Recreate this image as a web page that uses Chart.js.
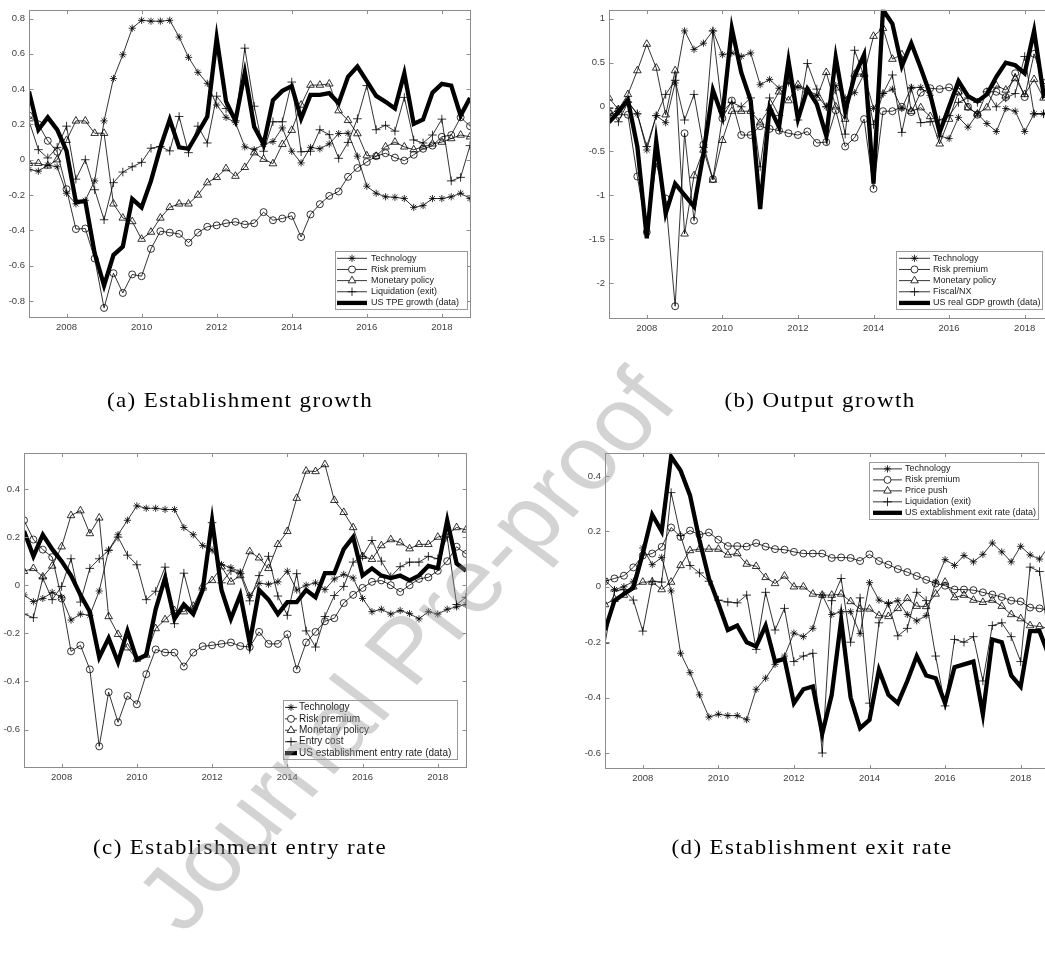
<!DOCTYPE html>
<html>
<head>
<meta charset="utf-8">
<script src="https://cdn.jsdelivr.net/npm/chart.js@4.4.1/dist/chart.umd.min.js"></script>
<style>
html,body{margin:0;padding:0;background:#fff;}
body{width:1045px;height:955px;overflow:hidden;position:relative;}
canvas{position:absolute;}
#wrap{position:absolute;left:0;top:0;width:1045px;height:1061px;transform:scaleY(0.9);transform-origin:0 0;pointer-events:none;}
.cap{position:absolute;width:max-content;transform:translate(-50%,-50%);font-family:"Liberation Serif",serif;font-size:23px;letter-spacing:1.4px;color:#000;white-space:nowrap;}
#wm{position:absolute;width:max-content;left:405px;top:722px;transform:translate(-50%,-50%) rotate(-50deg);font-family:"Liberation Sans",Arial,sans-serif;font-size:100px;color:rgba(150,150,150,0.42);white-space:nowrap;}
</style>
</head>
<body>
<canvas id="pa"></canvas>
<canvas id="pb"></canvas>
<canvas id="pc"></canvas>
<canvas id="pd"></canvas>
<div id="wrap">
<div class="cap" style="left:240px;top:445px">(a) Establishment growth</div>
<div class="cap" style="left:820px;top:445px">(b) Output growth</div>
<div class="cap" style="left:240px;top:942px">(c) Establishment entry rate</div>
<div class="cap" style="left:812px;top:942px">(d) Establishment exit rate</div>
<div id="wm">Journal Pre-proof</div>
</div>
<script>
// quarterly, 2007Q1 .. 2018Q4
const years = [2007,2008,2009,2010,2011,2012,2013,2014,2015,2016,2017,2018];
const quarters = years.flatMap(y => [y, y + 0.25, y + 0.5, y + 0.75]);
const xTicks = [2008, 2010, 2012, 2014, 2016, 2018];

// (a) establishment growth
const techA = [-0.055,-0.065,-0.03,-0.04,-0.19,-0.25,-0.23,-0.12,0.22,0.46, 0.595,0.745,0.79,0.785,0.785,0.79,0.695,0.58,0.495,0.433, 0.31,0.24,0.21,0.073,0.057,0.087,0.103,0.18,0.048,-0.018, 0.07,0.062,0.09,0.148,0.15,0.02,-0.15,-0.19,-0.21,-0.213, -0.22,-0.27,-0.26,-0.22,-0.22,-0.21,-0.19,-0.22];
const riskA = [0.25,0.2,0.107,0.045,-0.167,-0.393,-0.39,-0.56,-0.84,-0.643, -0.755,-0.65,-0.66,-0.505,-0.405,-0.413,-0.42,-0.47,-0.413,-0.38, -0.372,-0.36,-0.352,-0.367,-0.36,-0.297,-0.343,-0.333,-0.318,-0.438, -0.31,-0.252,-0.205,-0.18,-0.097,-0.047,-0.013,0.02,0.037,0.012, -0.005,0.028,0.062,0.08,0.13,0.14,0.24,0.19];
const monA = [-0.02,-0.02,-0.035,0.0,0.11,0.22,0.22,0.15,0.15,-0.25, -0.33,-0.35,-0.45,-0.41,-0.33,-0.27,-0.25,-0.25,-0.2,-0.13, -0.1,-0.05,-0.093,-0.043,0.04,0.003,-0.022,0.087,0.167,0.31, 0.423,0.423,0.43,0.278,0.223,0.148,0.023,0.02,0.073,0.1, 0.073,0.057,0.073,0.09,0.1,0.12,0.14,0.13];
const liqA = [0.22,0.057,0.01,0.07,0.19,-0.11,0.0,-0.17,-0.34,-0.13, -0.07,-0.04,-0.015,0.065,0.075,0.05,0.245,0.04,0.19,0.095, 0.36,0.29,0.22,0.632,0.303,0.048,0.215,0.215,0.44,0.045, 0.048,0.17,0.142,0.008,0.098,0.232,0.42,0.17,0.195,0.162, 0.353,0.112,0.095,0.14,0.23,-0.12,-0.1,0.08];
const tpeA = [0.387,0.17,0.24,0.17,0.05,-0.24,-0.235,-0.53,-0.713,-0.54, -0.493,-0.222,-0.27,-0.12,0.07,0.228,0.07,0.062,0.153,0.245, 0.69,0.33,0.22,0.495,0.187,0.087,0.337,0.39,0.417,0.233, 0.367,0.367,0.377,0.32,0.47,0.528,0.445,0.362,0.328,0.29, 0.49,0.203,0.228,0.38,0.43,0.42,0.25,0.35];

// (b) output growth
const techB = [-0.1,-0.02,0.06,-0.08,-0.49,-0.1,-0.18,0.27,0.86,0.65, 0.72,0.86,0.59,0.61,0.57,0.61,0.25,0.31,0.21,0.27, 0.22,0.19,0.13,0.0,0.24,0.1,0.16,0.37,-0.02,0.15, 0.2,-0.02,0.22,0.22,0.13,-0.33,-0.36,-0.12,-0.23,-0.08, -0.19,-0.28,-0.02,-0.05,-0.28,-0.08,-0.08,-0.08];
const riskB = [-0.07,-0.09,-0.09,-0.79,-1.42,-0.64,-1.04,-2.26,-0.3,-1.29, -0.43,-0.82,-0.13,0.07,-0.32,-0.32,-0.22,-0.25,-0.27,-0.3, -0.32,-0.28,-0.41,-0.4,-0.04,-0.45,-0.35,-0.14,-0.93,-0.05, -0.05,0.0,-0.06,0.16,0.21,0.2,0.22,0.17,0.0,-0.09, 0.17,0.17,0.11,0.38,0.11,0.6,0.27,0.2];
const monB = [0.1,-0.03,0.14,0.41,0.71,0.44,-0.09,0.41,-1.44,-0.78, -0.49,-0.83,-0.38,-0.05,-0.05,-0.05,-0.18,-0.02,0.17,0.07, 0.25,0.19,0.1,0.39,0.0,-0.14,0.37,0.37,0.8,0.89, 0.54,0.59,-0.05,-0.01,-0.11,-0.42,-0.14,0.17,-0.01,-0.08, -0.01,0.24,0.19,0.32,0.14,0.31,0.1,0.15];
const fiscB = [-0.02,-0.17,0.05,-0.08,-0.45,-0.1,0.14,0.3,-0.15,0.14, -0.46,0.86,-0.05,0.05,0.0,0.1,-0.68,0.1,-0.1,0.35, -0.15,0.49,0.2,0.0,0.19,-0.31,0.64,0.35,-0.2,0.15, 0.36,-0.29,0.21,-0.18,-0.17,-0.15,-0.1,0.05,0.1,0.05, 0.17,0.0,0.1,0.15,0.57,-0.08,-0.08,-0.05];
const gdpB = [-0.177,-0.06,0.08,-0.45,-1.49,-0.39,-1.21,-0.87,-1.0,-1.13, -0.53,0.19,-0.11,0.89,0.39,0.07,-1.16,-0.01,-0.23,0.52, -0.14,0.2,0.03,-0.33,0.56,-0.05,0.35,0.59,-0.87,1.1, 0.94,0.46,0.72,0.44,0.14,-0.29,0.0,0.29,0.12,0.06, 0.14,0.34,0.5,0.47,0.38,0.86,0.14,0.3];

// (c) establishment entry rate
const techC = [-0.04,-0.068,-0.055,-0.03,-0.05,-0.145,-0.12,-0.125,-0.024,0.146, 0.21,0.27,0.33,0.32,0.32,0.315,0.315,0.24,0.21,0.165, 0.146,0.086,0.073,0.055,-0.043,0.008,0.004,0.014,0.058,-0.02, 0.0,0.01,-0.018,0.026,0.045,0.03,-0.055,-0.11,-0.1,-0.12, -0.105,-0.118,-0.14,-0.11,-0.12,-0.1,-0.09,-0.08];
const riskC = [0.27,0.19,0.148,0.117,-0.055,-0.275,-0.25,-0.35,-0.67,-0.445, -0.57,-0.46,-0.495,-0.37,-0.267,-0.28,-0.28,-0.338,-0.28,-0.254, -0.25,-0.244,-0.238,-0.253,-0.257,-0.194,-0.244,-0.244,-0.204,-0.35, -0.238,-0.194,-0.15,-0.137,-0.074,-0.04,-0.011,0.014,0.02,0.0, -0.028,0.0,0.026,0.033,0.06,0.1,0.16,0.13];
const monC = [0.058,0.07,0.035,0.08,0.16,0.29,0.31,0.215,0.28,-0.13, -0.204,-0.26,-0.307,-0.29,-0.18,-0.143,-0.105,-0.11,-0.087,-0.005, 0.02,0.077,0.014,0.04,0.14,0.114,0.07,0.17,0.224,0.362, 0.475,0.473,0.502,0.353,0.303,0.24,0.12,0.108,0.165,0.19, 0.177,0.152,0.17,0.17,0.2,0.21,0.24,0.23];
const entryC = [-0.12,-0.135,0.03,-0.06,-0.005,0.11,-0.07,0.07,0.11,0.145, 0.2,0.125,0.085,-0.06,-0.025,0.075,-0.16,0.05,-0.1,-0.02, 0.26,0.01,0.06,0.048,-0.065,0.04,0.12,-0.045,-0.125,0.048, -0.19,-0.257,-0.13,-0.043,-0.005,0.096,0.12,0.186,0.1,0.035, 0.077,0.096,0.096,0.12,0.11,0.2,-0.08,-0.05];
const rateC = [0.225,0.12,0.21,0.15,0.1,0.04,-0.04,-0.11,-0.3,-0.22, -0.32,-0.19,-0.31,-0.29,-0.1,0.03,-0.14,-0.08,-0.12,-0.02, 0.27,-0.02,-0.14,-0.04,-0.24,-0.02,-0.06,-0.12,-0.07,-0.07, -0.02,-0.05,0.05,0.05,0.15,0.2,0.04,0.07,0.04,0.03, 0.04,0.02,0.04,0.08,0.07,0.27,0.09,0.06];

// (d) establishment exit rate
const techD = [0.023,-0.01,0.0,0.02,0.14,0.08,0.106,-0.015,-0.24,-0.31, -0.39,-0.47,-0.46,-0.465,-0.465,-0.48,-0.37,-0.33,-0.28,-0.25, -0.167,-0.18,-0.15,-0.03,-0.1,-0.09,-0.09,-0.169,0.015,-0.048, -0.06,-0.05,-0.1,-0.123,-0.104,0.017,0.098,0.077,0.113,0.09, 0.117,0.158,0.126,0.09,0.146,0.115,0.1,0.147];
const riskD = [0.02,0.03,0.04,0.07,0.113,0.12,0.144,0.214,0.18,0.203, 0.188,0.196,0.17,0.147,0.147,0.145,0.158,0.145,0.136,0.134, 0.126,0.12,0.12,0.12,0.104,0.106,0.104,0.093,0.117,0.093, 0.08,0.064,0.053,0.039,0.025,0.012,0.004,-0.01,-0.01,-0.012, -0.02,-0.028,-0.037,-0.05,-0.053,-0.075,-0.078,-0.085];
const pushD = [-0.064,-0.045,-0.03,0.0,0.017,0.017,-0.01,0.017,0.077,0.131, 0.136,0.136,0.136,0.115,0.12,0.082,0.074,0.034,0.012,0.039, 0.0,0.0,-0.026,-0.03,-0.03,-0.026,-0.053,-0.08,-0.08,-0.104, -0.107,-0.078,-0.042,-0.07,-0.071,-0.026,0.017,-0.039,-0.03,-0.048, -0.056,-0.048,-0.07,-0.1,-0.115,-0.14,-0.143,-0.15];
const liqD = [-0.204,-0.015,-0.01,-0.048,-0.16,0.02,0.017,0.34,0.185,0.077, 0.05,0.02,-0.048,-0.055,-0.058,-0.03,-0.226,-0.02,-0.156,-0.078, -0.27,-0.25,-0.24,-0.6,-0.05,0.03,-0.2,-0.04,-0.42,-0.13, -0.06,-0.177,-0.15,-0.02,-0.05,-0.25,-0.43,-0.19,-0.2,-0.18, -0.34,-0.14,-0.13,-0.18,-0.27,0.071,0.055,-0.2];
const exitD = [-0.156,-0.05,-0.026,-0.004,0.12,0.26,0.2,0.47,0.42,0.33, 0.169,0.03,-0.06,-0.156,-0.14,-0.2,-0.215,-0.14,-0.27,-0.26, -0.42,-0.37,-0.36,-0.53,-0.39,-0.12,-0.4,-0.51,-0.48,-0.3, -0.39,-0.42,-0.34,-0.25,-0.32,-0.33,-0.42,-0.29,-0.28,-0.27, -0.46,-0.19,-0.2,-0.32,-0.36,-0.16,-0.16,-0.25];

const yTicksA = [-0.8,-0.6,-0.4,-0.2,0,0.2,0.4,0.6,0.8];
const yTicksB = [-2,-1.5,-1,-0.5,0,0.5,1];
const yTicksC = [-0.6,-0.4,-0.2,0,0.2,0.4];
const yTicksD = [-0.6,-0.4,-0.2,0,0.2,0.4];

// layout numbers were measured on a copy that is 1.11x taller than the page
const SY = 0.9;

const markers = [
  {pointStyle: 'star', radius: 3.6},
  {pointStyle: 'circle', radius: 3.5},
  {pointStyle: 'triangle', radius: 4.4},
  {pointStyle: 'cross', radius: 4.3}
];
const thin = 0.8, thick = 4.3;

const axisGray = '#8c8c8c';
const tickFont = {family: '"Liberation Sans", Arial, sans-serif', size: 9.5};

function pts(vals) {
  return vals.map((v, i) => ({x: quarters[i], y: v}));
}

const boxPlugin = {
  id: 'box',
  afterDraw(chart) {
    const ctx = chart.ctx;
    const a = chart.chartArea;
    const x = chart.scales.x, y = chart.scales.y;
    const p = chart.options.plugins.box;
    ctx.save();
    ctx.strokeStyle = axisGray;
    ctx.lineWidth = 1;
    const L = Math.round(a.left) + 0.5, R = Math.round(a.right) + 0.5;
    const T = Math.round(a.top) + 0.5, B = Math.round(a.bottom) + 0.5;
    ctx.strokeRect(L, T, R - L, B - T);
    ctx.beginPath();
    x.ticks.forEach(t => {
      const px = Math.round(x.getPixelForValue(t.value)) + 0.5;
      ctx.moveTo(px, B); ctx.lineTo(px, B - 3.5);
      ctx.moveTo(px, T); ctx.lineTo(px, T + 3.5);
    });
    y.ticks.forEach(t => {
      const py = Math.round(y.getPixelForValue(t.value)) + 0.5;
      ctx.moveTo(L, py); ctx.lineTo(L + 4, py);
      ctx.moveTo(R, py); ctx.lineTo(R - 4, py);
    });
    ctx.stroke();

    // legend inside the axes
    const g = p.legend;
    const ox = p.left, oy = p.top;
    const bx = Math.round(g.x1 - ox) + 0.5, by = Math.round(g.y1 - oy) + 0.5;
    const bw = Math.round(g.x2 - g.x1), bh = Math.round(g.y2 - g.y1);
    ctx.fillStyle = '#fff';
    ctx.fillRect(bx, by, bw, bh);
    ctx.strokeStyle = '#9a9a9a';
    ctx.strokeRect(bx, by, bw, bh);
    ctx.font = g.fs + 'px "Liberation Sans", Arial, sans-serif';
    ctx.textBaseline = 'middle';
    ctx.textAlign = 'left';
    chart.data.datasets.forEach((ds, k) => {
      const ry = g.row0 + k * g.step - oy;
      const x0 = g.lx0 - ox, x1 = g.lx1 - ox;
      ctx.strokeStyle = '#000';
      ctx.lineWidth = ds.pointRadius > 0 ? thin : thick;
      ctx.beginPath();
      ctx.moveTo(x0, ry); ctx.lineTo(x1, ry);
      ctx.stroke();
      if (ds.pointRadius > 0) {
        ctx.fillStyle = '#fff';
        ctx.lineWidth = thin;
        Chart.helpers.drawPoint(ctx, {pointStyle: ds.pointStyle, radius: ds.pointRadius, borderWidth: thin, rotation: 0}, (x0 + x1) / 2, ry);
      }
      ctx.fillStyle = '#1a1a1a';
      ctx.fillText(ds.label, g.tx - ox, ry);
    });
    ctx.restore();
  }
};

function panel(id, p) {
  const left = p.left, top = Math.round(p.top * SY);
  const w = p.w, h = Math.round(p.h * SY);
  const A = {l: p.area.l, t: p.area.t * SY, r: p.area.r, b: p.area.b * SY};
  const g = p.legend;
  const lg = {x1: g.x1, x2: g.x2, lx0: g.lx0, lx1: g.lx1, tx: g.tx, fs: g.fs,
              y1: g.y1 * SY, y2: g.y2 * SY, row0: g.row0 * SY, step: g.step * SY};

  const cv = document.getElementById(id);
  cv.width = w; cv.height = h;
  cv.style.left = left + 'px';
  cv.style.top = top + 'px';

  const datasets = p.series.map((vals, k) => ({
    label: p.names[k],
    data: pts(vals),
    borderColor: '#000',
    borderWidth: thin,
    pointStyle: markers[k].pointStyle,
    pointRadius: markers[k].radius,
    pointBorderWidth: thin,
    pointBorderColor: '#000',
    pointBackgroundColor: 'rgba(0,0,0,0)',
    tension: 0,
    order: 1
  }));
  datasets.push({
    label: p.names[4],
    data: pts(p.data),
    borderColor: '#000',
    borderWidth: thick,
    pointRadius: 0,
    tension: 0,
    order: 0
  });

  new Chart(cv, {
    type: 'line',
    data: {datasets},
    plugins: [boxPlugin],
    options: {
      responsive: false,
      animation: false,
      devicePixelRatio: 1,
      events: [],
      layout: {
        autoPadding: false,
        padding: {left: 0, top: A.t - top, right: left + w - A.r, bottom: 0}
      },
      plugins: {
        legend: {display: false},
        tooltip: {enabled: false},
        box: {legend: lg, left: left, top: top}
      },
      scales: {
        x: {
          type: 'linear', min: 2007, max: 2018.75,
          grid: {display: false, drawTicks: false},
          border: {display: false},
          ticks: {font: tickFont, color: '#404040', padding: 5, maxRotation: 0, autoSkip: false, callback: v => String(v)},
          afterBuildTicks: s => { s.ticks = xTicks.map(v => ({value: v})); },
          afterFit: s => { s.height = top + h - A.b; }
        },
        y: {
          type: 'linear', min: p.ymin, max: p.ymax,
          grid: {display: false, drawTicks: false},
          border: {display: false},
          ticks: {font: tickFont, color: '#404040', padding: 4, autoSkip: false, callback: v => String(v)},
          afterBuildTicks: s => { s.ticks = p.yTicks.map(v => ({value: v})); },
          afterFit: s => { s.width = A.l - left; }
        }
      }
    }
  });
}

panel('pa', {
  left: 0, top: 0, w: 490, h: 380,
  area: {l: 29, t: 4, r: 470, b: 352},
  ymin: -0.89, ymax: 0.85, yTicks: yTicksA,
  series: [techA, riskA, monA, liqA], data: tpeA,
  names: ['Technology', 'Risk premium', 'Monetary policy', 'Liquidation (exit)', 'US TPE growth (data)'],
  legend: {x1: 335, y1: 279, x2: 467, y2: 343, row0: 287, step: 12.4, lx0: 337, lx1: 367, tx: 371, fs: 9}
});

panel('pb', {
  left: 575, top: 0, w: 500, h: 380,
  area: {l: 609, t: 4, r: 1053, b: 353},
  ymin: -2.39, ymax: 1.1, yTicks: yTicksB,
  series: [techB, riskB, monB, fiscB], data: gdpB,
  names: ['Technology', 'Risk premium', 'Monetary policy', 'Fiscal/NX', 'US real GDP growth (data)'],
  legend: {x1: 896, y1: 279, x2: 1042, y2: 343, row0: 287, step: 12.4, lx0: 899, lx1: 930, tx: 933, fs: 9}
});

panel('pc', {
  left: 0, top: 480, w: 490, h: 400,
  area: {l: 24, t: 503, r: 466, b: 852},
  ymin: -0.755, ymax: 0.551, yTicks: yTicksC,
  series: [techC, riskC, monC, entryC], data: rateC,
  names: ['Technology', 'Risk premium', 'Monetary policy', 'Entry cost', 'US establishment entry rate (data)'],
  legend: {x1: 283, y1: 778, x2: 457, y2: 843, row0: 786, step: 12.7, lx0: 285, lx1: 297, tx: 299, fs: 10}
});

panel('pd', {
  left: 575, top: 480, w: 500, h: 400,
  area: {l: 605, t: 503, r: 1049, b: 853},
  ymin: -0.653, ymax: 0.484, yTicks: yTicksD,
  series: [techD, riskD, pushD, liqD], data: exitD,
  names: ['Technology', 'Risk premium', 'Price push', 'Liquidation (exit)', 'US extablishment exit rate (data)'],
  legend: {x1: 869, y1: 513, x2: 1038, y2: 576, row0: 521, step: 12.2, lx0: 873, lx1: 902, tx: 905, fs: 9}
});
</script>
</body>
</html>
